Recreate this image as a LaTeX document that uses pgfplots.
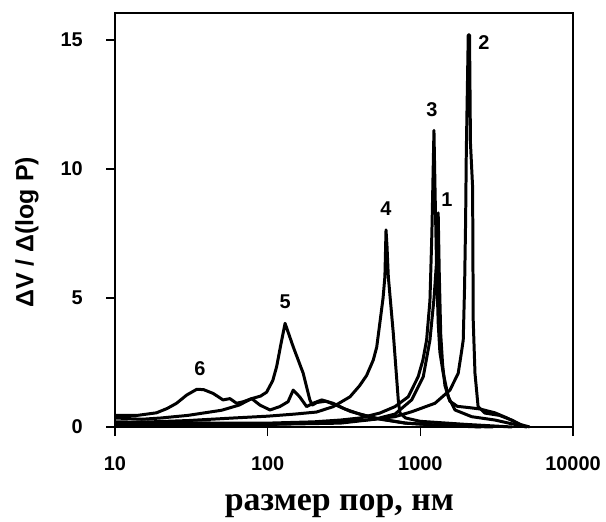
\documentclass[border=0pt]{standalone}
\usepackage{fontspec}
\setmainfont{Liberation Sans}
\newfontfamily\serifb{Liberation Serif}
\usepackage{pgfplots}
\pgfplotsset{compat=1.18}
\usepackage{pgfplotstable}

\pgfplotstableread{
x y
10 0.05
100 0.1
300 0.2
500 0.3
682 0.4
877 0.59
1247 0.92
1563 1.43
1770 2.08
1860 2.9
1910 3.37
1950 5.5
1980 8
2000 10.6
2060 15.2
2100 15.2
2130 11
2200 9.3
2220 4.15
2280 2.08
2390 0.79
2650 0.54
3300 0.45
3960 0.27
4500 0.1
4900 0
}\curveB

\pgfplotstableread{
x y
10 0.1
100 0.1
300 0.15
500 0.3
682 0.5
877 1.05
1045 1.95
1156 3.37
1230 5.0
1280 6.5
1309 8.3
1330 6
1360 3.6
1400 2.4
1450 1.6
1560 1.0
1750 0.8
2100 0.75
2450 0.7
3080 0.55
3700 0.35
4500 0.1
5200 0
}\curveA

\pgfplotstableread{
x y
10 0.2
50 0.15
100 0.15
200 0.2
300 0.27
402 0.35
543 0.54
682 0.79
833 1.17
968 1.95
1040 2.6
1099 3.37
1156 4.9
1190 7.5
1228 11.5
1250 9
1280 6
1310 4
1343 2.9
1413 2.08
1524 1.17
1687 0.66
2170 0.4
3080 0.27
4000 0.12
5000 0
}\curveC

\pgfplotstableread{
x y
10 0.15
30 0.25
60 0.35
100 0.42
150 0.5
209 0.58
269 0.79
346 1.17
400 1.6
445 2.0
492 2.6
518 3.1
543 4.03
570 5.0
586 5.83
596 7.64
605 7.0
617 5.83
665 3.64
717 1.05
735 0.54
800 0.35
1000 0.22
2000 0.1
4000 0
}\curveD

\pgfplotstableread{
x y
10 0.35
15 0.3
20 0.35
30 0.45
50 0.65
65 0.85
78.6 1.1
90 1.2
98.4 1.35
108 1.8
114.5 2.34
122 3.2
130 4.02
147 3.11
171 2.08
189 1.05
196 0.85
210 0.95
240 1.0
280 0.85
350 0.6
500 0.35
800 0.15
1500 0.05
3000 0
}\curveE

\pgfplotstableread{
x y
10 0.45
14 0.45
18.7 0.55
22 0.72
25.3 0.92
29.5 1.24
34.3 1.46
38 1.45
44 1.3
51 1.05
56.6 1.1
62.6 0.92
69.2 0.98
78.6 1.1
89 0.85
103.5 0.66
120 0.79
136 0.98
147 1.43
162 1.17
180 0.79
198 0.92
226 1.05
268 0.92
320 0.7
400 0.5
550 0.3
800 0.15
1500 0.05
2500 0
}\curveF

\begin{document}
\begin{tikzpicture}
\useasboundingbox (-115bp,-95bp) rectangle (491bp,427bp);
\begin{axis}[
  at={(0,0)}, anchor=south west,
  scale only axis,
  width=458bp, height=414bp,
  xmode=log,
  xmin=10, xmax=10000,
  ymin=0, ymax=16.05,
  xtick={10,100,1000,10000},
  xticklabels={10,100,1000,10000},
  xminorticks=false,
  ytick={0,5,10,15},
  xtick pos=bottom, ytick pos=left,
  tick align=outside,
  major tick length=9bp,
  axis line style={line width=1.2pt},
  every tick/.style={line width=1.2pt, black},
  /pgf/number format/assume math mode=true,
  tick label style={font=\fontsize{20}{23}\selectfont\bfseries, inner sep=0pt},
  xticklabel style={anchor=north, yshift=-20bp},
  yticklabel style={anchor=east, xshift=-23bp},
  xlabel={\serifb\bfseries размер пор, нм},
  xlabel style={font=\fontsize{34}{40}\selectfont, at={(rel axis cs:0.49,0)}, anchor=base, yshift=-83bp, inner sep=0pt},
  ylabel={ΔV / Δ(log P)},
  ylabel style={font=\fontsize{25}{29}\selectfont\bfseries, at={(rel axis cs:-0.192,0.47)}, anchor=center, inner sep=0pt, rotate=0},
  clip=false,
]
\addplot[black, line width=3pt, line join=round] table[x=x,y=y] {\curveA};
\addplot[black, line width=3pt, line join=round] table[x=x,y=y] {\curveB};
\addplot[black, line width=3pt, line join=round] table[x=x,y=y] {\curveC};
\addplot[black, line width=3pt, line join=round] table[x=x,y=y] {\curveD};
\addplot[black, line width=3pt, line join=round] table[x=x,y=y] {\curveE};
\addplot[black, line width=3pt, line join=round] table[x=x,y=y] {\curveF};
\node[font=\fontsize{20}{23}\selectfont\bfseries] at (axis cs:1493,8.8) {1};
\node[font=\fontsize{20}{23}\selectfont\bfseries] at (axis cs:2610,14.92) {2};
\node[font=\fontsize{20}{23}\selectfont\bfseries] at (axis cs:1191,12.29) {3};
\node[font=\fontsize{20}{23}\selectfont\bfseries] at (axis cs:596,8.48) {4};
\node[font=\fontsize{20}{23}\selectfont\bfseries] at (axis cs:130,4.86) {5};
\node[font=\fontsize{20}{23}\selectfont\bfseries] at (axis cs:36,2.25) {6};
\end{axis}
\end{tikzpicture}
\end{document}
